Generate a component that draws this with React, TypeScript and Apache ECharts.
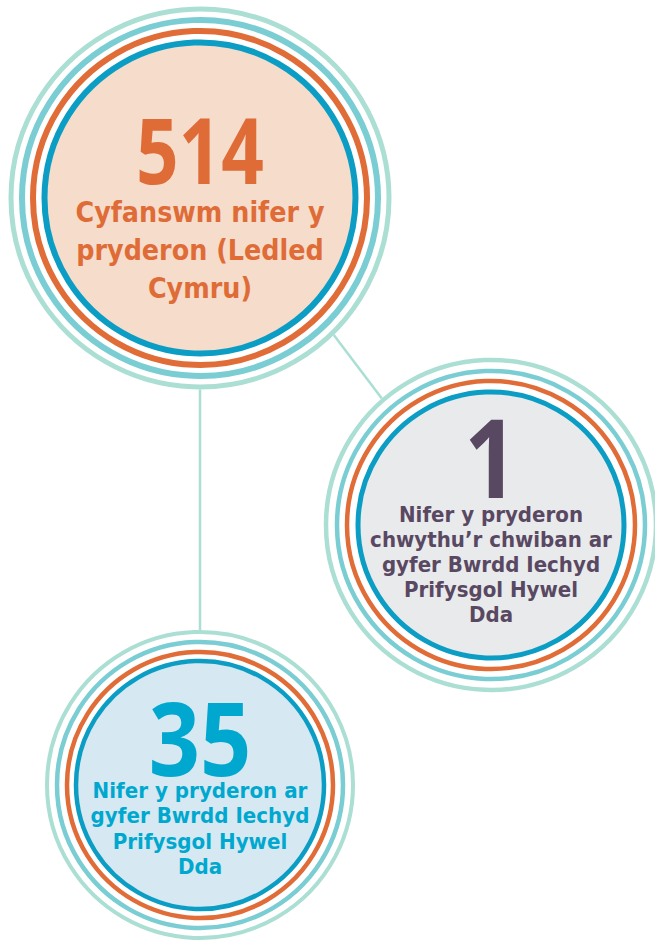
import React, { useEffect, useRef } from "react";
import * as echarts from "echarts";

// ---- data ----
const values: number[] = [514, 1, 35];
const captionTop: string[] = ["Cyfanswm nifer y", "pryderon (Ledled", "Cymru)"];
const captionRight: string[] = ["Nifer y pryderon", "chwythu\u2019r chwiban ar", "gyfer Bwrdd Iechyd", "Prifysgol Hywel", "Dda"];
const captionBottom: string[] = ["Nifer y pryderon ar", "gyfer Bwrdd Iechyd", "Prifysgol Hywel", "Dda"];

const MINT = "#abdfd4";
const TEAL = "#7acdd2";
const ORANGE = "#e06c37";
const BLUE = "#0b9dc4";
const NUM_FONT = "'Open Sans', sans-serif";
const CAP_FONT = "'DejaVu Sans', sans-serif";

type Bubble = {
  cx: number; cy: number;
  rings: [number, number][]; // radius, width
  fillR: number; fill: string; color: string;
  value: number; valueY: number; valueSize: number; valueScale: number;
  lines: string[]; lineY0: number; lineH: number; lineSize: number; lineScale: number;
};

const bubbles: Bubble[] = [
  {
    cx: 200, cy: 198,
    rings: [[189, 5], [178, 6], [167, 6], [155.5, 6]],
    fillR: 153, fill: "#f6dccb", color: "#df6c37",
    value: values[0], valueY: 148, valueSize: 91, valueScale: 0.82,
    lines: captionTop, lineY0: 212, lineH: 38, lineSize: 27.5, lineScale: 0.926,
  },
  {
    cx: 491, cy: 525,
    rings: [[165, 4.5], [154, 4.5], [144, 4.5], [133, 5]],
    fillR: 131, fill: "#e9eaec", color: "#594862",
    value: values[1], valueY: 455, valueSize: 110, valueScale: 0.85,
    lines: captionRight, lineY0: 514.5, lineH: 25, lineSize: 20.5, lineScale: 0.968,
  },
  {
    cx: 200, cy: 785,
    rings: [[153, 4], [143, 4.5], [133, 4.5], [124, 4.5]],
    fillR: 122, fill: "#d6e8f1", color: "#00a8cf",
    value: values[2], valueY: 736, valueSize: 102, valueScale: 0.88,
    lines: captionBottom, lineY0: 791, lineH: 25.2, lineSize: 20.8, lineScale: 0.957,
  },
];

export default function App() {
  const ref = useRef<HTMLDivElement>(null);
  useEffect(() => {
    document.body.style.margin = "0";
    if (!ref.current) return;
    const chart = echarts.init(ref.current, undefined, { renderer: "svg" });
    const elements: any[] = [];
    // connectors
    elements.push({ type: "line", shape: { x1: 200, y1: 385, x2: 200, y2: 635 }, style: { stroke: MINT, lineWidth: 2.5 }, z: 1 });
    elements.push({ type: "line", shape: { x1: 330, y1: 330, x2: 386, y2: 404 }, style: { stroke: MINT, lineWidth: 2.5 }, z: 1 });
    bubbles.forEach((b) => {
      const outer = b.rings[0][0] + b.rings[0][1] / 2;
      elements.push({ type: "circle", shape: { cx: b.cx, cy: b.cy, r: outer }, style: { fill: "#ffffff" }, z: 2 });
      elements.push({ type: "circle", shape: { cx: b.cx, cy: b.cy, r: b.fillR }, style: { fill: b.fill }, z: 3 });
      const cols = [MINT, TEAL, ORANGE, BLUE];
      b.rings.forEach(([r, w], i) => {
        elements.push({ type: "circle", shape: { cx: b.cx, cy: b.cy, r }, style: { fill: "none", stroke: cols[i], lineWidth: w }, z: 4 });
      });
      elements.push({
        type: "text", x: b.cx, y: b.valueY, scaleX: b.valueScale, z: 5,
        style: { text: String(b.value), fill: b.color, font: `bold ${b.valueSize}px ${NUM_FONT}`, textAlign: "center", textVerticalAlign: "middle" },
      });
      elements.push({
        type: "text", x: b.cx, y: b.lineY0 - b.lineH / 2, scaleX: b.lineScale, z: 5,
        style: {
          text: b.lines.join("\n"), fill: b.color, font: `bold ${b.lineSize}px ${CAP_FONT}`,
          lineHeight: b.lineH, textAlign: "center", textVerticalAlign: "top",
        },
      });
    });
    chart.setOption({ animation: false, graphic: { elements } });
    return () => chart.dispose();
  }, []);
  return <div ref={ref} style={{ width: 655, height: 941 }} />;
}
